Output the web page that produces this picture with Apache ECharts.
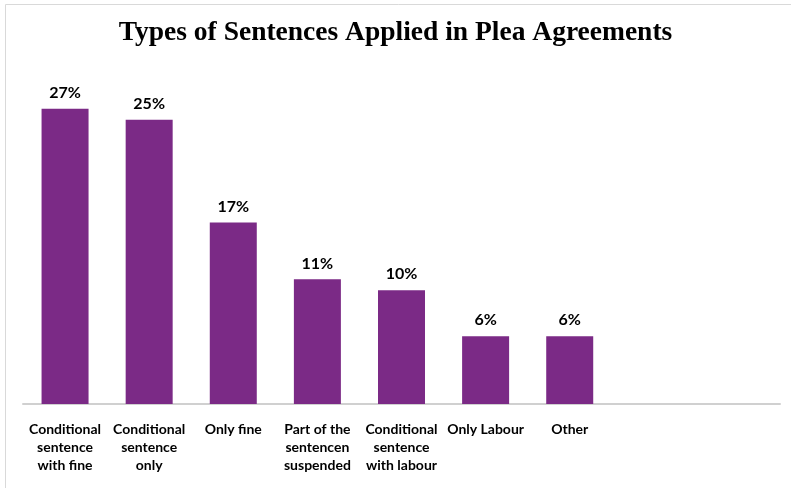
<!DOCTYPE html>
<html>
<head>
<meta charset="utf-8">
<script src="https://cdn.jsdelivr.net/npm/echarts@6/dist/echarts.min.js"></script>
<style>
html,body{margin:0;padding:0;background:#fff;}
#chart{width:791px;height:488px;}
</style>
</head>
<body>
<div id="chart"></div>
<script>
var categories = ["Conditional\nsentence\nwith fine", "Conditional\nsentence\nonly", "Only fine", "Part of the\nsentencen\nsuspended", "Conditional\nsentence\nwith labour", "Only Labour", "Other", "", ""];
var values = [27, 26, 16.6, 11.4, 10.4, 6.2, 6.2, null, null];
var valueLabels = ["27%", "25%", "17%", "11%", "10%", "6%", "6%", "", ""];
var titleText = "Types of Sentences Applied in Plea Agreements";

var chart = echarts.init(document.getElementById('chart'));
chart.setOption({
  animation: false,
  title: {
    text: titleText,
    left: 'center',
    top: 14,
    textStyle: { fontFamily: 'Liberation Serif', fontWeight: 'bold', fontSize: 27.5, color: '#000' }
  },
  graphic: [
    { type: 'line', shape: { x1: 5.5, y1: 4.5, x2: 791, y2: 4.5 }, style: { stroke: '#d9d9d9', lineWidth: 1 } },
    { type: 'line', shape: { x1: 5.5, y1: 4.5, x2: 5.5, y2: 488 }, style: { stroke: '#d9d9d9', lineWidth: 1 } }
  ],
  grid: { left: 23, right: 11, top: 76, bottom: 84 },
  xAxis: {
    type: 'category',
    data: categories,
    axisLine: { lineStyle: { color: '#d0d0d0', width: 2 } },
    axisTick: { show: false },
    axisLabel: {
      interval: 0, margin: 16, lineHeight: 18,
      fontFamily: 'Lato', fontWeight: 'bold', fontSize: 14, color: '#000'
    }
  },
  yAxis: {
    type: 'value', min: 0, max: 30,
    show: false, splitLine: { show: false }
  },
  series: [{
    type: 'bar',
    data: values,
    barWidth: 47,
    itemStyle: { color: '#7B2A86' },
    label: {
      show: true, position: 'top', distance: 8,
      fontFamily: 'Lato', fontWeight: 'bold', fontSize: 16, color: '#000',
      formatter: function (p) { return valueLabels[p.dataIndex]; }
    }
  }]
});
</script>
</body>
</html>
